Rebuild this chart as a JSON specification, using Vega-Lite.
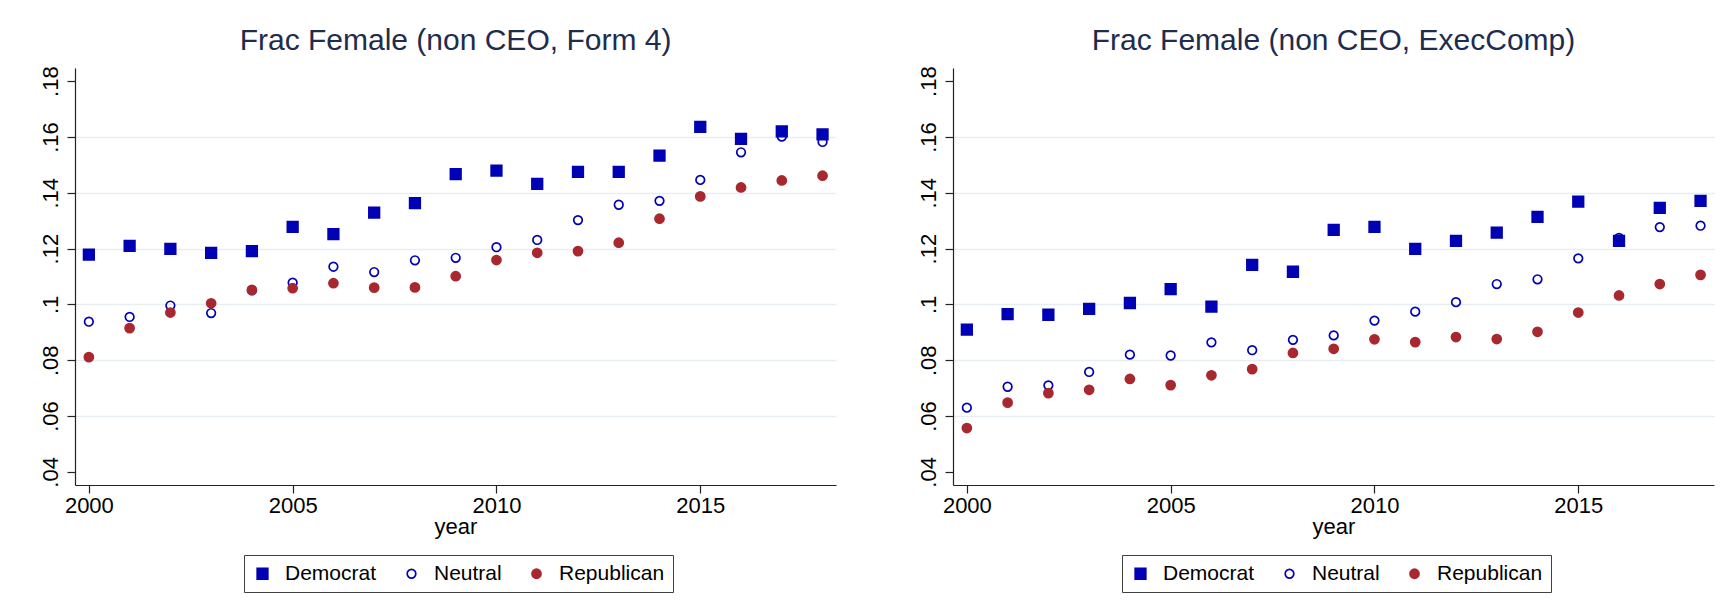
{
  "$schema": "https://vega.github.io/schema/vega-lite/v6.json",
  "background": "white",
  "padding": {"left": 39, "top": 25, "right": 10, "bottom": 0},
  "datasets": {
    "form4": [
      {"year": 2000, "party": "Neutral", "frac": 0.0938}, {"year": 2001, "party": "Neutral", "frac": 0.0955}, {"year": 2002, "party": "Neutral", "frac": 0.0996}, {"year": 2003, "party": "Neutral", "frac": 0.0969}, {"year": 2004, "party": "Neutral", "frac": 0.1050}, {"year": 2005, "party": "Neutral", "frac": 0.1078}, {"year": 2006, "party": "Neutral", "frac": 0.1135}, {"year": 2007, "party": "Neutral", "frac": 0.1116}, {"year": 2008, "party": "Neutral", "frac": 0.1158}, {"year": 2009, "party": "Neutral", "frac": 0.1167}, {"year": 2010, "party": "Neutral", "frac": 0.1205}, {"year": 2011, "party": "Neutral", "frac": 0.1231}, {"year": 2012, "party": "Neutral", "frac": 0.1302}, {"year": 2013, "party": "Neutral", "frac": 0.1357}, {"year": 2014, "party": "Neutral", "frac": 0.1371}, {"year": 2015, "party": "Neutral", "frac": 0.1446}, {"year": 2016, "party": "Neutral", "frac": 0.1545}, {"year": 2017, "party": "Neutral", "frac": 0.1601}, {"year": 2018, "party": "Neutral", "frac": 0.1582},
      {"year": 2000, "party": "Democrat", "frac": 0.1178}, {"year": 2001, "party": "Democrat", "frac": 0.1210}, {"year": 2002, "party": "Democrat", "frac": 0.1199}, {"year": 2003, "party": "Democrat", "frac": 0.1185}, {"year": 2004, "party": "Democrat", "frac": 0.1191}, {"year": 2005, "party": "Democrat", "frac": 0.1278}, {"year": 2006, "party": "Democrat", "frac": 0.1252}, {"year": 2007, "party": "Democrat", "frac": 0.1329}, {"year": 2008, "party": "Democrat", "frac": 0.1363}, {"year": 2009, "party": "Democrat", "frac": 0.1467}, {"year": 2010, "party": "Democrat", "frac": 0.1479}, {"year": 2011, "party": "Democrat", "frac": 0.1432}, {"year": 2012, "party": "Democrat", "frac": 0.1475}, {"year": 2013, "party": "Democrat", "frac": 0.1475}, {"year": 2014, "party": "Democrat", "frac": 0.1533}, {"year": 2015, "party": "Democrat", "frac": 0.1636}, {"year": 2016, "party": "Democrat", "frac": 0.1593}, {"year": 2017, "party": "Democrat", "frac": 0.1620}, {"year": 2018, "party": "Democrat", "frac": 0.1609},
      {"year": 2000, "party": "Republican", "frac": 0.0811}, {"year": 2001, "party": "Republican", "frac": 0.0915}, {"year": 2002, "party": "Republican", "frac": 0.0971}, {"year": 2003, "party": "Republican", "frac": 0.1004}, {"year": 2004, "party": "Republican", "frac": 0.1052}, {"year": 2005, "party": "Republican", "frac": 0.1058}, {"year": 2006, "party": "Republican", "frac": 0.1076}, {"year": 2007, "party": "Republican", "frac": 0.1060}, {"year": 2008, "party": "Republican", "frac": 0.1061}, {"year": 2009, "party": "Republican", "frac": 0.1101}, {"year": 2010, "party": "Republican", "frac": 0.1159}, {"year": 2011, "party": "Republican", "frac": 0.1185}, {"year": 2012, "party": "Republican", "frac": 0.1191}, {"year": 2013, "party": "Republican", "frac": 0.1221}, {"year": 2014, "party": "Republican", "frac": 0.1307}, {"year": 2015, "party": "Republican", "frac": 0.1387}, {"year": 2016, "party": "Republican", "frac": 0.1419}, {"year": 2017, "party": "Republican", "frac": 0.1444}, {"year": 2018, "party": "Republican", "frac": 0.1461}
    ],
    "execcomp": [
      {"year": 2000, "party": "Neutral", "frac": 0.0630}, {"year": 2001, "party": "Neutral", "frac": 0.0705}, {"year": 2002, "party": "Neutral", "frac": 0.0710}, {"year": 2003, "party": "Neutral", "frac": 0.0758}, {"year": 2004, "party": "Neutral", "frac": 0.0820}, {"year": 2005, "party": "Neutral", "frac": 0.0817}, {"year": 2006, "party": "Neutral", "frac": 0.0864}, {"year": 2007, "party": "Neutral", "frac": 0.0836}, {"year": 2008, "party": "Neutral", "frac": 0.0873}, {"year": 2009, "party": "Neutral", "frac": 0.0889}, {"year": 2010, "party": "Neutral", "frac": 0.0942}, {"year": 2011, "party": "Neutral", "frac": 0.0974}, {"year": 2012, "party": "Neutral", "frac": 0.1008}, {"year": 2013, "party": "Neutral", "frac": 0.1073}, {"year": 2014, "party": "Neutral", "frac": 0.1090}, {"year": 2015, "party": "Neutral", "frac": 0.1165}, {"year": 2016, "party": "Neutral", "frac": 0.1238}, {"year": 2017, "party": "Neutral", "frac": 0.1277}, {"year": 2018, "party": "Neutral", "frac": 0.1282},
      {"year": 2000, "party": "Democrat", "frac": 0.0910}, {"year": 2001, "party": "Democrat", "frac": 0.0965}, {"year": 2002, "party": "Democrat", "frac": 0.0963}, {"year": 2003, "party": "Democrat", "frac": 0.0984}, {"year": 2004, "party": "Democrat", "frac": 0.1005}, {"year": 2005, "party": "Democrat", "frac": 0.1055}, {"year": 2006, "party": "Democrat", "frac": 0.0992}, {"year": 2007, "party": "Democrat", "frac": 0.1142}, {"year": 2008, "party": "Democrat", "frac": 0.1117}, {"year": 2009, "party": "Democrat", "frac": 0.1267}, {"year": 2010, "party": "Democrat", "frac": 0.1278}, {"year": 2011, "party": "Democrat", "frac": 0.1199}, {"year": 2012, "party": "Democrat", "frac": 0.1228}, {"year": 2013, "party": "Democrat", "frac": 0.1257}, {"year": 2014, "party": "Democrat", "frac": 0.1314}, {"year": 2015, "party": "Democrat", "frac": 0.1368}, {"year": 2016, "party": "Democrat", "frac": 0.1228}, {"year": 2017, "party": "Democrat", "frac": 0.1346}, {"year": 2018, "party": "Democrat", "frac": 0.1371},
      {"year": 2000, "party": "Republican", "frac": 0.0557}, {"year": 2001, "party": "Republican", "frac": 0.0648}, {"year": 2002, "party": "Republican", "frac": 0.0682}, {"year": 2003, "party": "Republican", "frac": 0.0694}, {"year": 2004, "party": "Republican", "frac": 0.0733}, {"year": 2005, "party": "Republican", "frac": 0.0711}, {"year": 2006, "party": "Republican", "frac": 0.0746}, {"year": 2007, "party": "Republican", "frac": 0.0768}, {"year": 2008, "party": "Republican", "frac": 0.0826}, {"year": 2009, "party": "Republican", "frac": 0.0841}, {"year": 2010, "party": "Republican", "frac": 0.0875}, {"year": 2011, "party": "Republican", "frac": 0.0865}, {"year": 2012, "party": "Republican", "frac": 0.0883}, {"year": 2013, "party": "Republican", "frac": 0.0876}, {"year": 2014, "party": "Republican", "frac": 0.0902}, {"year": 2015, "party": "Republican", "frac": 0.0971}, {"year": 2016, "party": "Republican", "frac": 0.1032}, {"year": 2017, "party": "Republican", "frac": 0.1073}, {"year": 2018, "party": "Republican", "frac": 0.1106}
    ]
  },
  "config": {
    "font": "Liberation Sans",
    "view": {"stroke": null},
    "axis": {
      "domainColor": "#222222", "domainWidth": 1.2,
      "tickColor": "#222222", "tickSize": 8, "tickWidth": 1.2,
      "labelFont": "Liberation Sans", "labelFontSize": 22, "labelColor": "#000000",
      "titleFont": "Liberation Sans", "titleFontSize": 22, "titleFontWeight": "normal", "titleColor": "#000000",
      "gridColor": "#e6eef1", "gridWidth": 1.5
    },
    "legend": {
      "labelFont": "Liberation Sans", "labelFontSize": 21, "labelColor": "#000000",
      "strokeColor": "#404040", "fillColor": "white", "padding": 8,
      "columnPadding": 24, "labelOffset": 12, "symbolStrokeWidth": 1.7
    },
    "title": {"font": "Liberation Sans", "fontSize": 30, "fontWeight": "normal", "color": "#1e2c4e", "anchor": "middle", "offset": 10}
  },
  "spacing": 81,
  "resolve": {"legend": {"shape": "independent", "fill": "independent", "stroke": "independent", "size": "independent"}},
  "hconcat": [
    {
      "data": {"name": "form4"},
      "title": {"text": "Frac Female (non CEO, Form 4)"},
      "width": 761, "height": 417,
      "mark": {"type": "point", "strokeWidth": 1.7, "opacity": 1},
      "encoding": {
        "x": {"field": "year", "type": "quantitative", "scale": {"domain": [1999.66, 2018.33], "nice": false, "zero": false}, "axis": {"values": [2000, 2005, 2010, 2015], "format": "d", "title": "year", "grid": false, "labelPadding": 2, "titlePadding": 0}},
        "y": {"field": "frac", "type": "quantitative", "scale": {"domain": [0.0353, 0.1847], "nice": false, "zero": false}, "axis": {"values": [0.04, 0.06, 0.08, 0.1, 0.12, 0.14, 0.16, 0.18], "labelExpr": "replace(format(datum.value, '.2~f'), '0.', '.')", "title": null, "labelAngle": -90, "labelPadding": 5, "grid": true, "gridOpacity": {"condition": {"test": "datum.value < 0.05 || datum.value > 0.17", "value": 0}, "value": 1}}},
        "shape": {"field": "party", "type": "nominal", "scale": {"domain": ["Democrat", "Neutral", "Republican"], "range": ["square", "circle", "circle"]}, "legend": {"title": null, "orient": "none", "legendX": 169, "legendY": 487, "direction": "horizontal"}},
        "fill": {"field": "party", "type": "nominal", "scale": {"domain": ["Democrat", "Neutral", "Republican"], "range": ["#0000b4", "transparent", "#a82830"]}, "legend": {"title": null, "orient": "none", "legendX": 169, "legendY": 487, "direction": "horizontal"}},
        "stroke": {"field": "party", "type": "nominal", "scale": {"domain": ["Democrat", "Neutral", "Republican"], "range": ["#0000b4", "#0000b4", "#a82830"]}, "legend": {"title": null, "orient": "none", "legendX": 169, "legendY": 487, "direction": "horizontal"}},
        "size": {"field": "party", "type": "nominal", "scale": {"type": "ordinal", "domain": ["Democrat", "Neutral", "Republican"], "range": [112, 74, 82]}, "legend": {"title": null, "orient": "none", "legendX": 169, "legendY": 487, "direction": "horizontal"}}
      }
    },
    {
      "data": {"name": "execcomp"},
      "title": {"text": "Frac Female (non CEO, ExecComp)"},
      "width": 761, "height": 417,
      "mark": {"type": "point", "strokeWidth": 1.7, "opacity": 1},
      "encoding": {
        "x": {"field": "year", "type": "quantitative", "scale": {"domain": [1999.66, 2018.33], "nice": false, "zero": false}, "axis": {"values": [2000, 2005, 2010, 2015], "format": "d", "title": "year", "grid": false, "labelPadding": 2, "titlePadding": 0}},
        "y": {"field": "frac", "type": "quantitative", "scale": {"domain": [0.0353, 0.1847], "nice": false, "zero": false}, "axis": {"values": [0.04, 0.06, 0.08, 0.1, 0.12, 0.14, 0.16, 0.18], "labelExpr": "replace(format(datum.value, '.2~f'), '0.', '.')", "title": null, "labelAngle": -90, "labelPadding": 5, "grid": true, "gridOpacity": {"condition": {"test": "datum.value < 0.05 || datum.value > 0.17", "value": 0}, "value": 1}}},
        "shape": {"field": "party", "type": "nominal", "scale": {"domain": ["Democrat", "Neutral", "Republican"], "range": ["square", "circle", "circle"]}, "legend": {"title": null, "orient": "none", "legendX": 169, "legendY": 487, "direction": "horizontal"}},
        "fill": {"field": "party", "type": "nominal", "scale": {"domain": ["Democrat", "Neutral", "Republican"], "range": ["#0000b4", "transparent", "#a82830"]}, "legend": {"title": null, "orient": "none", "legendX": 169, "legendY": 487, "direction": "horizontal"}},
        "stroke": {"field": "party", "type": "nominal", "scale": {"domain": ["Democrat", "Neutral", "Republican"], "range": ["#0000b4", "#0000b4", "#a82830"]}, "legend": {"title": null, "orient": "none", "legendX": 169, "legendY": 487, "direction": "horizontal"}},
        "size": {"field": "party", "type": "nominal", "scale": {"type": "ordinal", "domain": ["Democrat", "Neutral", "Republican"], "range": [112, 74, 82]}, "legend": {"title": null, "orient": "none", "legendX": 169, "legendY": 487, "direction": "horizontal"}}
      }
    }
  ]
}
